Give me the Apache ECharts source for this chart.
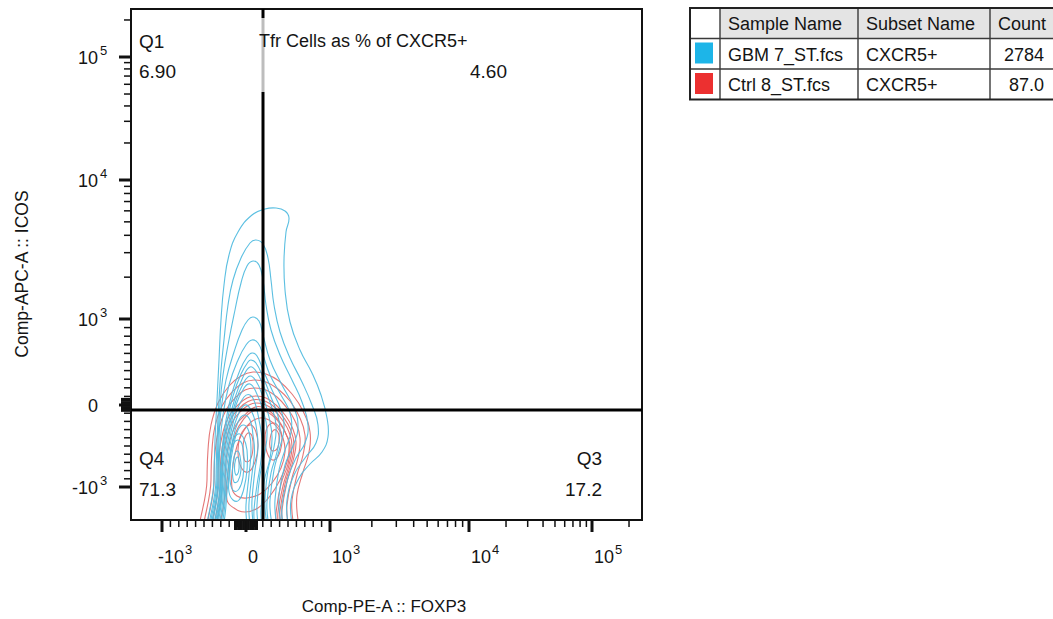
<!DOCTYPE html>
<html>
<head>
<meta charset="utf-8">
<script src="https://cdn.jsdelivr.net/npm/echarts@6/dist/echarts.min.js"></script>
<style>html,body{margin:0;padding:0;background:#fff}#c{width:1053px;height:619px}</style>
</head>
<body>
<div id="c"></div>
<script>
// ================= DATA =================
// Display (biexponential) channel positions of the decade anchors
const xDecadeValues   = [-1000, 0, 1000, 10000, 100000];
const xDecadeChannels = [62, 230, 398, 676, 922];
const yDecadeValues   = [-1000, 0, 1000, 10000, 100000];
const yDecadeChannels = [66, 230, 402, 680, 926];
// Tick labels: [base, exponent]
const xTickLabels = [['-10', '3'], ['0', ''], ['10', '3'], ['10', '4'], ['10', '5']];
const yTickLabels = [['-10', '3'], ['0', ''], ['10', '3'], ['10', '4'], ['10', '5']];
const minorTickValues = [-900, -800, -700, -600, -500, -400, -300, -200, -100,
  100, 200, 300, 400, 500, 600, 700, 800, 900,
  2000, 3000, 4000, 5000, 6000, 7000, 8000, 9000,
  20000, 30000, 40000, 50000, 60000, 70000, 80000, 90000, 200000];
const xZeroClusterValues = [-130, -110, -90, -70, -50, -30, -10, 10, 30, 50, 70, 90, 110, 130];
const yZeroClusterValues = [-70, -50, -30, -10, 10, 30, 50, 70];

// Quadrant gate position (channels)
const gateX = 264;
const gateY = 220;

// Quadrant statistics
const quadNames  = ['Q1', 'Q3', 'Q4'];
const quadValues = ['6.90', '17.2', '71.3'];
const tfrName  = 'Tfr Cells as % of CXCR5+';
const tfrValue = '4.60';

// Axis titles
const xTitle = 'Comp-PE-A :: FOXP3';
const yTitle = 'Comp-APC-A :: ICOS';

// Legend table
const tableHeaders = ['Sample Name', 'Subset Name', 'Count'];
const sampleNames  = ['GBM 7_ST.fcs', 'Ctrl 8_ST.fcs'];
const subsetNames  = ['CXCR5+', 'CXCR5+'];
const eventCounts  = ['2784', '87.0'];

// Contour levels (display channels), GBM 7 sample, outer to inner
const blueContours = [
  [[164,-60],[166,80],[168,160],[172,240],[176,320],[180,400],[186,470],[196,530],[214,576],[242,610],[268,622],[290,624],[308,618],[316,604],[310,576],[306,520],[308,460],[318,396],[338,340],[362,294],[380,250],[392,204],[394,166],[382,136],[358,112],[336,84],[320,40],[312,-60]],
  [[168,-60],[170,80],[172,160],[176,240],[180,300],[186,360],[194,430],[204,480],[220,524],[238,554],[250,560],[264,552],[274,524],[280,480],[286,430],[298,376],[318,324],[342,276],[362,230],[374,190],[370,154],[348,124],[326,90],[312,40],[304,-60]],
  [[170,-60],[172,80],[174,160],[178,230],[184,290],[194,350],[208,420],[220,474],[232,508],[244,518],[256,510],[264,480],[270,430],[280,380],[298,330],[322,280],[342,236],[354,190],[348,154],[330,124],[314,84],[302,30],[296,-60]],
  [[172,-60],[174,80],[176,160],[180,220],[190,280],[206,336],[222,380],[234,400],[244,406],[256,398],[264,370],[278,320],[302,270],[326,224],[334,184],[324,148],[308,110],[296,50],[290,-60]],
  [[174,-60],[176,80],[178,150],[184,210],[196,270],[214,320],[230,350],[242,360],[254,354],[264,330],[278,290],[300,250],[318,214],[320,176],[308,140],[296,100],[288,40],[282,-60]],
  [[176,-60],[178,70],[182,140],[190,200],[202,254],[218,300],[232,326],[242,334],[252,328],[264,300],[282,260],[300,220],[306,184],[298,146],[286,100],[278,40],[274,-60]],
  [[177,-60],[179,64],[183,136],[192,196],[204,248],[220,292],[234,316],[240,320],[250,314],[264,286],[280,246],[294,208],[298,174],[292,136],[280,94],[272,36],[268,-60]],
  [[178,-60],[180,60],[184,130],[194,190],[208,244],[224,286],[238,306],[250,298],[264,270],[280,230],[290,190],[286,146],[274,100],[268,40],[264,-60]],
  [[179,-60],[181,56],[186,124],[196,184],[209,236],[225,274],[238,288],[250,278],[264,246],[276,206],[282,166],[278,124],[266,76],[260,20],[256,-60]],
  [[180,-60],[182,50],[188,120],[198,180],[210,230],[226,264],[238,272],[250,256],[264,220],[272,180],[268,136],[258,90],[252,30],[248,-60]],
  [[182,-60],[184,46],[190,116],[200,176],[212,220],[226,246],[238,250],[248,234],[256,200],[262,160],[260,120],[252,70],[246,20],[242,-60]],
  [[184,-60],[186,40],[192,110],[202,170],[214,210],[228,230],[240,220],[250,190],[254,146],[248,100],[242,40],[238,-60]],
  [[186,-60],[188,36],[194,100],[203,158],[214,196],[226,210],[238,200],[244,170],[247,136],[242,92],[236,34],[232,-60]],
  [[188,-60],[190,30],[196,90],[204,144],[214,180],[226,190],[236,176],[240,140],[236,90],[230,30],[228,-60]],
  [[196,84],[198,130],[204,158],[214,172],[224,166],[232,140],[232,100],[226,64],[216,40],[204,40],[196,56]],
  [[198,100],[200,134],[206,154],[214,160],[222,152],[226,124],[224,86],[216,62],[206,58],[199,72]],
  [[203,100],[206,126],[212,138],[218,128],[220,100],[214,78],[206,76]],
  [[207,104],[209,120],[213,126],[216,116],[215,96],[210,90]]
];
// Contour levels (display channels), Ctrl 8 sample, outer to inner
const redContours = [
  [[150,-60],[152,80],[154,140],[160,190],[174,234],[196,268],[220,288],[244,296],[270,292],[296,278],[322,252],[344,218],[358,176],[356,136],[344,96],[332,50],[322,-60]],
  [[158,-60],[160,80],[162,140],[168,188],[182,228],[202,256],[224,274],[246,280],[270,276],[294,262],[318,238],[336,208],[348,170],[344,130],[332,90],[322,40],[314,-60]],
  [[164,-60],[166,76],[168,136],[176,184],[190,220],[208,244],[228,260],[248,264],[270,260],[292,246],[312,224],[328,198],[338,164],[334,124],[322,84],[312,30],[306,-60]],
  [[172,-60],[174,70],[176,130],[184,176],[196,208],[214,230],[232,244],[250,248],[270,244],[290,230],[308,210],[322,186],[330,156],[324,118],[312,76],[302,20],[296,-60]],
  [[176,-60],[178,67],[180,127],[188,172],[200,203],[217,224],[234,237],[251,241],[270,237],[289,224],[306,204],[319,181],[326,152],[320,114],[308,72],[298,18],[292,-60]],
  [[180,-60],[182,64],[184,124],[192,168],[204,198],[220,218],[236,230],[252,234],[270,230],[288,218],[304,198],[316,176],[322,148],[316,110],[304,68],[294,16],[288,-60]],
  [[186,-60],[188,58],[190,118],[198,160],[210,190],[226,208],[241,222],[255,227],[271,222],[286,210],[300,192],[310,172],[318,150],[314,112],[300,72],[290,14],[284,-60]],
  [[192,40],[194,96],[200,140],[210,176],[224,200],[240,216],[258,220],[276,214],[292,200],[306,180],[316,152],[312,116],[298,80],[278,48],[254,24],[228,16],[206,24]],
  [[202,64],[204,110],[212,148],[224,176],[240,196],[258,204],[276,200],[292,186],[304,164],[308,136],[300,104],[282,74],[258,52],[232,44],[212,48]],
  [[214,136],[218,166],[228,184],[240,190],[250,176],[254,148],[248,116],[234,96],[220,106]],
  [[268,160],[272,184],[284,194],[296,186],[302,164],[298,136],[286,120],[274,130]],
  [[224,140],[226,160],[234,174],[242,168],[244,144],[238,120],[228,118]],
  [[278,160],[282,176],[290,180],[296,168],[294,146],[284,138],[278,146]]
];

// ================= STYLE =================
const FONT = '"Liberation Sans", Arial, Helvetica, sans-serif';
const TEXT_COLOR = '#141414';
const BLUE_LINE = '#52bcdf';
const RED_LINE = '#e37070';
const SAMPLE_COLORS = ['#1db5e8', '#ec3030'];

// biexponential display transform built from the decade anchors
function toChannel(v, ch) {
  if (v < 0) return ch[1] + (v / 1000) * (ch[1] - ch[0]);
  if (v <= 1000) return ch[1] + (v / 1000) * (ch[2] - ch[1]);
  const d = Math.log10(v);
  const i = Math.min(Math.floor(d) - 3, 1);
  return ch[2 + i] + (d - 3 - i) * (ch[3 + i] - ch[2 + i]);
}

function buildTicks(decVals, decCh, labels, cluster) {
  const list = [];
  decVals.forEach((v, i) => list.push({ ch: toChannel(v, decCh), kind: 'major', label: labels[i] }));
  minorTickValues.forEach(v => list.push({ ch: toChannel(v, decCh), kind: 'minor' }));
  cluster.forEach(v => list.push({ ch: toChannel(v, decCh), kind: 'cluster' }));
  return list;
}
const xTicks = buildTicks(xDecadeValues, xDecadeChannels, xTickLabels, xZeroClusterValues);
const yTicks = buildTicks(yDecadeValues, yDecadeChannels, yTickLabels, yZeroClusterValues);

const mctx = document.createElement('canvas').getContext('2d');
function textW(s, size) { mctx.font = size + 'px ' + FONT; return mctx.measureText(s).width; }

const BASE_SIZE = 18, SUP_SIZE = 13;

function tickStyle(kind) {
  if (kind === 'major') return { len: 11, lw: 3 };
  if (kind === 'cluster') return { len: 9, lw: 2.2 };
  return { len: 6, lw: 1.5 };
}

function txt(x, y, text, size, align, vAlign) {
  return { type: 'text', x: x, y: y, silent: true,
    style: { text: text, font: size + 'px ' + FONT, fill: TEXT_COLOR, align: align, verticalAlign: vAlign } };
}

function xTickRender(params, api) {
  const t = xTicks[params.dataIndex];
  const cs = params.coordSys;
  const x = api.coord([api.value(0), api.value(1)])[0];
  const y0 = cs.y + cs.height;
  const st = tickStyle(t.kind);
  const kids = [{ type: 'line', shape: { x1: x, y1: y0 + 1, x2: x, y2: y0 + 1 + st.len },
    style: { stroke: '#111', lineWidth: st.lw } }];
  if (t.label) {
    const base = t.label[0], sup = t.label[1];
    const ly = y0 + 37;
    if (!sup) {
      kids.push(txt(x + 2, ly, base, BASE_SIZE, 'left', 'middle'));
    } else {
      const tenEnd = x + 2 + textW('10', BASE_SIZE);
      kids.push(txt(tenEnd, ly, base, BASE_SIZE, 'right', 'middle'));
      kids.push(txt(tenEnd + 1, ly - 8, sup, SUP_SIZE, 'left', 'middle'));
    }
  }
  return { type: 'group', children: kids };
}

function yTickRender(params, api) {
  const t = yTicks[params.dataIndex];
  const cs = params.coordSys;
  const y = api.coord([api.value(0), api.value(1)])[1];
  const x0 = cs.x;
  const st = tickStyle(t.kind);
  const kids = [{ type: 'line', shape: { x1: x0 - 1 - st.len, y1: y, x2: x0 - 1, y2: y },
    style: { stroke: '#111', lineWidth: st.lw } }];
  if (t.label) {
    const base = t.label[0], sup = t.label[1];
    kids.push(txt(98, y + 1, base, BASE_SIZE, 'right', 'middle'));
    if (sup) kids.push(txt(100, y - 7, sup, SUP_SIZE, 'left', 'middle'));
  }
  return { type: 'group', children: kids };
}

function contourSeries(rings, color, z) {
  return {
    type: 'custom', clip: true, z: z, silent: true,
    data: rings.map((r, i) => [r[0][0], r[0][1], i]),
    renderItem: function (params, api) {
      const ring = rings[params.dataIndex];
      const pts = ring.map(p => api.coord(p));
      return { type: 'polygon', shape: { points: pts, smooth: 0.45 },
        style: { fill: 'none', stroke: color, lineWidth: 1.1, opacity: 0.95 } };
    }
  };
}

// frame + quadrant gate
const gateSeries = {
  type: 'custom', z: 6, silent: true,
  data: [[gateX, gateY]],
  renderItem: function (params, api) {
    const cs = params.coordSys;
    const p = api.coord([api.value(0), api.value(1)]);
    return { type: 'group', children: [
      { type: 'rect', shape: { x: cs.x, y: cs.y, width: cs.width, height: cs.height },
        style: { fill: 'none', stroke: '#111', lineWidth: 2 } },
      { type: 'line', shape: { x1: p[0], y1: cs.y, x2: p[0], y2: cs.y + cs.height },
        style: { stroke: '#000', lineWidth: 3 } },
      { type: 'line', shape: { x1: cs.x, y1: p[1], x2: cs.x + cs.width, y2: p[1] },
        style: { stroke: '#000', lineWidth: 3 } }
    ] };
  }
};

// ---- graphic: quadrant labels, titles, table ----
const G = [];
function gtext(x, y, text, size, align, vAlign, extra) {
  const e = { type: 'text', x: x, y: y, z: 60, silent: true,
    style: { text: text, font: size + 'px ' + FONT, fill: TEXT_COLOR, align: align, verticalAlign: vAlign } };
  return Object.assign(e, extra || {});
}
// translucent label box over the gate line
G.push({ type: 'rect', z: 55, silent: true, shape: { x: 259, y: 18, width: 252, height: 74 },
  style: { fill: 'rgba(255,255,255,0.74)' } });
G.push(gtext(259, 41, tfrName, 18, 'left', 'middle'));
G.push(gtext(507, 71, tfrValue, 19, 'right', 'middle'));
G.push(gtext(139, 41, quadNames[0], 19, 'left', 'middle'));
G.push(gtext(139, 71, quadValues[0], 19, 'left', 'middle'));
G.push(gtext(139, 458, quadNames[2], 19, 'left', 'middle'));
G.push(gtext(139, 489, quadValues[2], 19, 'left', 'middle'));
G.push(gtext(602, 458, quadNames[1], 19, 'right', 'middle'));
G.push(gtext(602, 489, quadValues[1], 19, 'right', 'middle'));
G.push(gtext(384, 606, xTitle, 17, 'center', 'middle'));
G.push(gtext(22, 274, yTitle, 17.5, 'center', 'middle', { rotation: Math.PI / 2 }));

// table
const colX = [690, 720, 858, 990, 1100];
const rowY = [8, 38.5, 69, 99.5];
G.push({ type: 'rect', z: 50, silent: true,
  shape: { x: colX[1], y: rowY[0], width: colX[4] - colX[1], height: rowY[1] - rowY[0] },
  style: { fill: '#e4e4e4' } });
for (let r = 1; r < rowY.length - 1; r++) {
  G.push({ type: 'line', z: 52, silent: true, shape: { x1: colX[0], y1: rowY[r], x2: colX[4], y2: rowY[r] },
    style: { stroke: '#3a3a3a', lineWidth: 1.4 } });
}
for (let c = 1; c < colX.length - 1; c++) {
  G.push({ type: 'line', z: 52, silent: true, shape: { x1: colX[c], y1: rowY[0], x2: colX[c], y2: rowY[3] },
    style: { stroke: '#3a3a3a', lineWidth: 1.4 } });
}
G.push({ type: 'rect', z: 53, silent: true,
  shape: { x: colX[0], y: rowY[0], width: colX[4] - colX[0], height: rowY[3] - rowY[0] },
  style: { fill: 'none', stroke: '#222', lineWidth: 2 } });
tableHeaders.forEach((h, i) => G.push(gtext(colX[i + 1] + 8, (rowY[0] + rowY[1]) / 2 + 1, h, 18, 'left', 'middle')));
sampleNames.forEach((s, r) => {
  const cy = (rowY[r + 1] + rowY[r + 2]) / 2 + 1;
  G.push({ type: 'rect', z: 54, silent: true,
    shape: { x: colX[0] + 5, y: rowY[r + 1] + 4, width: 18, height: 21 },
    style: { fill: SAMPLE_COLORS[r] } });
  G.push(gtext(colX[1] + 8, cy, s, 18, 'left', 'middle'));
  G.push(gtext(colX[2] + 8, cy, subsetNames[r], 18, 'left', 'middle'));
  G.push(gtext(1044, cy, eventCounts[r], 18, 'right', 'middle'));
});

const chart = echarts.init(document.getElementById('c'), null, { renderer: 'svg' });
chart.setOption({
  animation: false,
  backgroundColor: '#ffffff',
  grid: { left: 131, top: 9, width: 511, height: 511, show: false },
  xAxis: { type: 'value', min: 0, max: 1022, show: false },
  yAxis: { type: 'value', min: 0, max: 1022, show: false },
  series: [
    contourSeries(redContours, RED_LINE, 2),
    contourSeries(blueContours, BLUE_LINE, 3),
    gateSeries,
    { type: 'custom', z: 6, silent: true, renderItem: xTickRender, data: xTicks.map(t => [t.ch, 0]) },
    { type: 'custom', z: 6, silent: true, renderItem: yTickRender, data: yTicks.map(t => [0, t.ch]) }
  ],
  graphic: { elements: G }
});
</script>
</body>
</html>
